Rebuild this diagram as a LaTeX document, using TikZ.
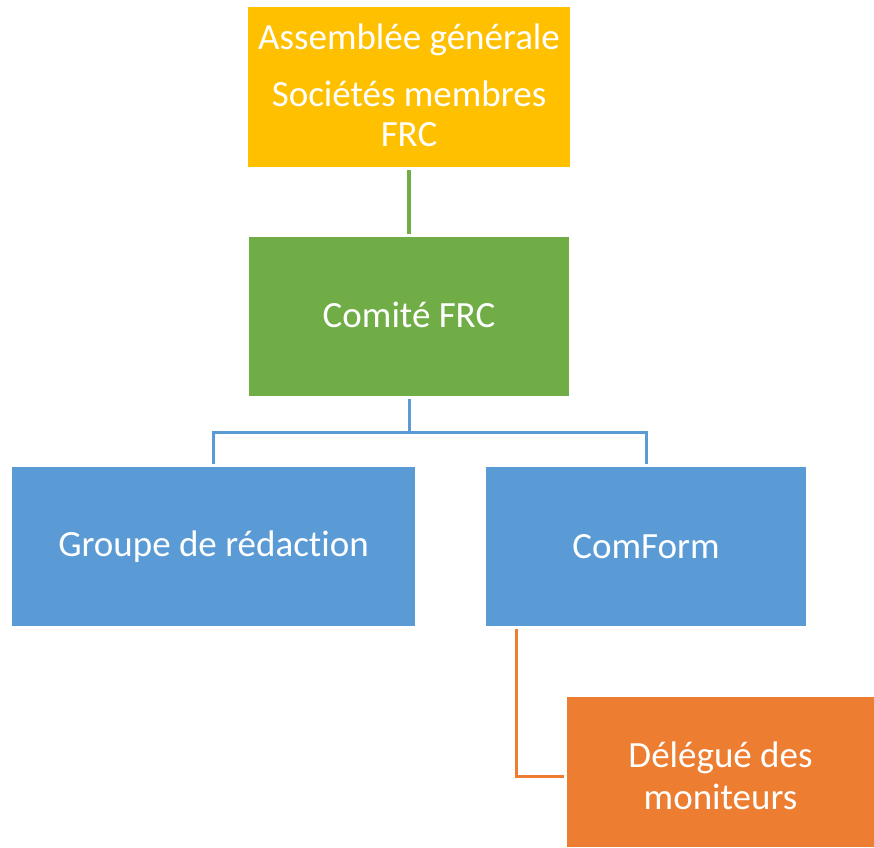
\documentclass[tikz,border=0pt]{standalone}
\usepackage{fontspec}
\setmainfont{Carlito}[Ligatures=NoCommon]
\definecolor{ygold}{HTML}{FFC000}
\definecolor{ggreen}{HTML}{70AD47}
\definecolor{bblue}{HTML}{5B9BD5}
\definecolor{oorange}{HTML}{ED7D31}
\begin{document}
\begin{tikzpicture}[x=1pt,y=-1pt,
  box/.style={draw=none, text=white, align=center, inner sep=0pt,
    font=\fontsize{37}{40}\selectfont},
  txt/.style={text=white, align=center, inner sep=0pt,
    font=\fontsize{37}{40}\selectfont},
  conn/.style={line width=3pt, shorten <=3pt, shorten >=3pt}]
\useasboundingbox (0,0) rectangle (874,847);
\node[box, fill=ygold, minimum width=322pt, minimum height=160pt] (ag) at (409,87) {};
\node[txt] (agtxt) at ([yshift=2pt]ag.center) {Assemblée générale\\[17pt]Sociétés membres\\FRC};
\node[box, fill=ggreen, minimum width=320pt, minimum height=159pt] (com) at (409,316.5) {};
\node[txt] (comtxt) at ([yshift=1.5pt]com.center) {Comité FRC};
\node[box, fill=bblue, minimum width=403pt, minimum height=159pt] (grp) at (213.5,546.5) {Groupe de rédaction};
\node[box, fill=bblue, minimum width=320pt, minimum height=159pt] (cf) at (646,546.5) {ComForm};
\node[box, fill=oorange, minimum width=307pt, minimum height=150pt] (del) at (720.5,772) {};
\node[txt] (deltxt) at ([yshift=-3.5pt]del.center) {Délégué des\\[2pt]moniteurs};
\draw[conn, ggreen, line width=3.5pt] (ag.south) -- (com.north);
\draw[conn, bblue] (com.south) -- ++(0,36) -| (grp.north);
\draw[conn, bblue] (com.south) -- ++(0,36) -| (cf.north);
\draw[conn, oorange] ([xshift=31pt]cf.south west) |- ([yshift=-4pt]del.west);
\end{tikzpicture}
\end{document}
